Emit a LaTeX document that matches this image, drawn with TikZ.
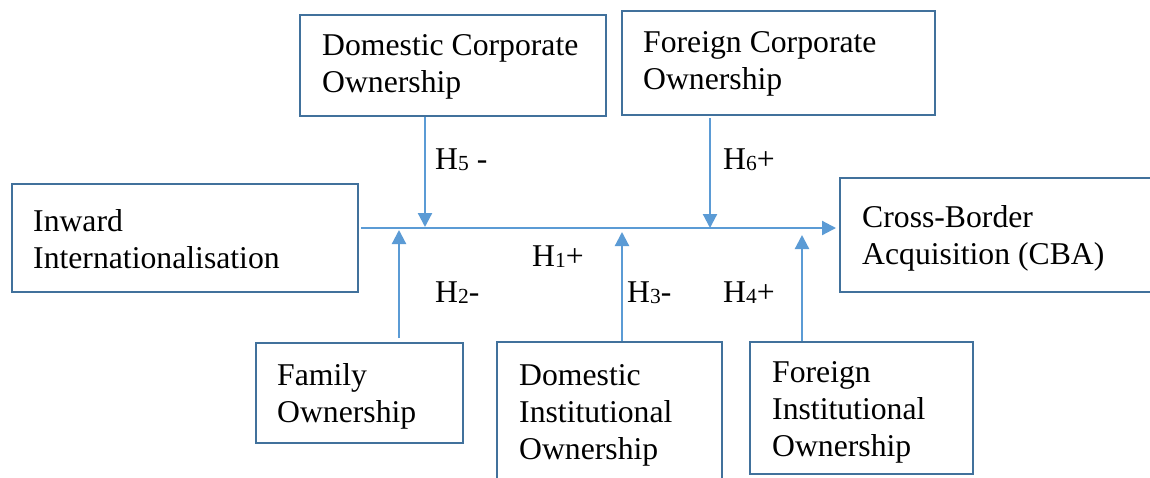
\documentclass[tikz,border=0pt]{standalone}
\usepackage{fontspec}
\setmainfont{Liberation Serif}
\usetikzlibrary{arrows.meta}
\definecolor{boxblue}{HTML}{41719C}
\definecolor{arrowblue}{HTML}{5B9BD5}
\newcommand{\mylines}[1]{\begin{tabular}[t]{@{}l@{}}#1\end{tabular}}
\newcommand{\hyp}[2]{H{\fontsize{21.5}{21.5}\selectfont\raisebox{-1.5pt}{#1}}#2}
\tikzset{
  x=1pt, y=-1pt,
  box/.style={draw=boxblue, line width=2.6pt, fill=white, inner sep=0pt, outer sep=0pt, anchor=north west},
  txt/.style={anchor=base west, inner sep=0pt, font=\fontsize{31.7}{37}\selectfont, text=black},
  conn/.style={draw=arrowblue, line width=2.2pt, -{Triangle[length=14pt,width=14pt]}},
  hlabel/.style={anchor=base west, inner sep=0pt, font=\fontsize{31.7}{37}\selectfont}
}
\begin{document}
\begin{tikzpicture}
\clip (0,0) rectangle (1150,477);
\fill[white] (0,0) rectangle (1150,477);

% boxes
\node[box, minimum width=306pt, minimum height=101pt] (dcorp) at (300,15) {};
\node[box, minimum width=313pt, minimum height=104pt] (fcorp) at (622,11) {};
\node[box, minimum width=346pt, minimum height=108pt] (inward) at (12,184) {};
\node[box, minimum width=325pt, minimum height=114pt] (cba) at (840,178) {};
\node[box, minimum width=207pt, minimum height=100pt] (family) at (256,343) {};
\node[box, minimum width=225pt, minimum height=153pt] (dinst) at (497,342) {};
\node[box, minimum width=223pt, minimum height=132pt] (finst) at (750,342) {};

% texts
\node[txt] at (322,55) {\mylines{Domestic Corporate\\Ownership}};
\node[txt] at (643,52) {\mylines{Foreign Corporate\\Ownership}};
\node[txt] at (33,231) {\mylines{Inward\\Internationalisation}};
\node[txt] at (862,227) {\mylines{Cross-Border\\Acquisition (CBA)}};
\node[txt] at (277,385) {\mylines{Family\\Ownership}};
\node[txt] at (519,385) {\mylines{Domestic\\Institutional\\Ownership}};
\node[txt] at (772,382) {\mylines{Foreign\\Institutional\\Ownership}};

% main connector
\coordinate (ms) at ([xshift=3pt]inward.east |- 0,228);
\draw[conn, shorten >=4pt] (ms) -- (cba.west |- ms);

% moderating connectors
\coordinate (t5) at (425,227);
\coordinate (t6) at (710,228);
\coordinate (t2) at (399,230);
\coordinate (t3) at (622,232);
\coordinate (t4) at (802,235);
\draw[conn, shorten <=1pt] (dcorp.south -| t5) -- (t5);
\draw[conn, shorten <=3pt] (fcorp.south -| t6) -- (t6);
\draw[conn, shorten <=5pt] (family.north -| t2) -- (t2);
\draw[conn, shorten <=1pt] (dinst.north -| t3) -- (t3);
\draw[conn, shorten <=1pt] (finst.north -| t4) -- (t4);

% labels
\node[hlabel] (l5) at (435,169) {\hyp{5}{ -}};
\node[hlabel] (l6) at (723,169) {\hyp{6}{+}};
\node[hlabel] (l1) at (532,266) {\hyp{1}{+}};
\node[hlabel] (l2) at (435,302) {\hyp{2}{-}};
\node[hlabel] (l3) at (627,302) {\hyp{3}{-}};
\node[hlabel] (l4) at (723,302) {\hyp{4}{+}};
\end{tikzpicture}
\end{document}
